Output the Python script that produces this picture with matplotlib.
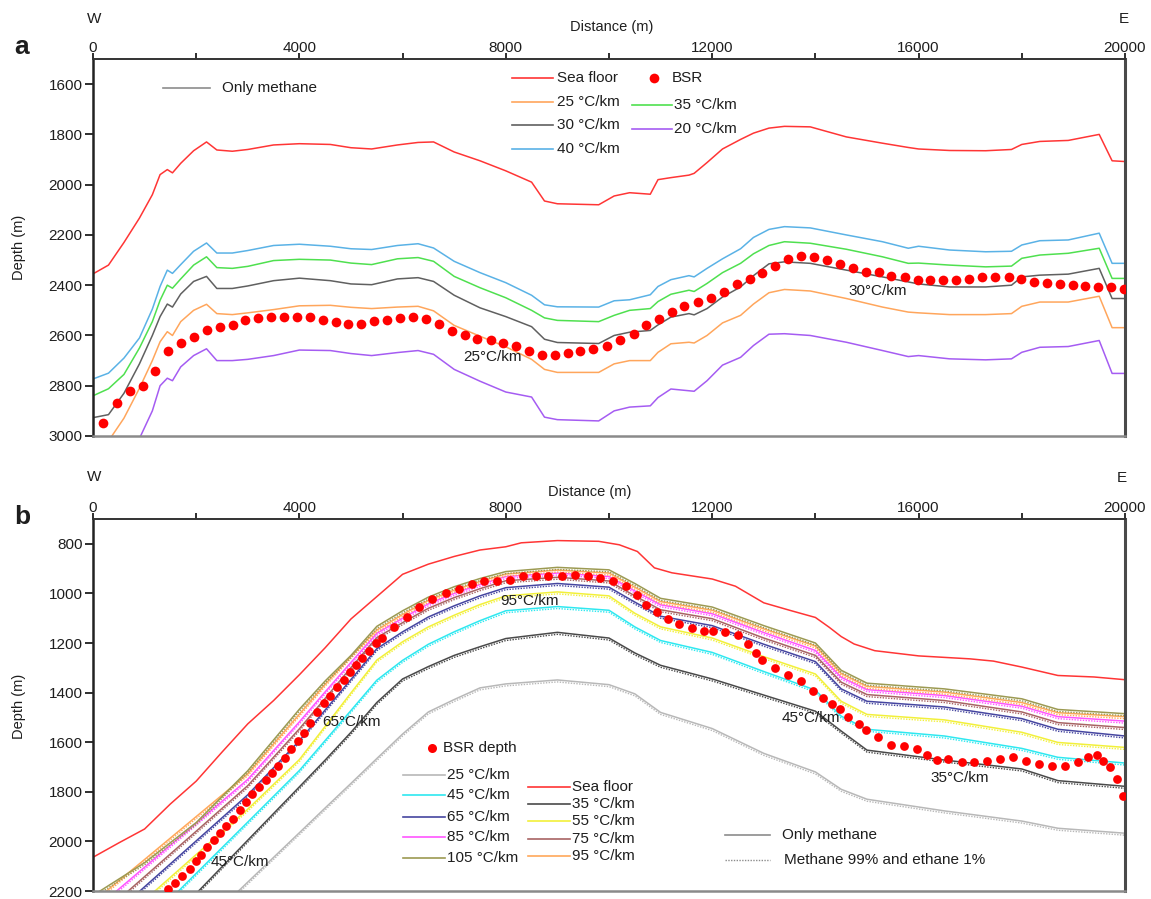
import matplotlib
matplotlib.use("Agg")
import matplotlib.pyplot as plt
from matplotlib.lines import Line2D

plt.rcParams['font.family'] = ['Liberation Sans', 'DejaVu Sans']

# ---------------- shared axis data ----------------
X_TICKS = [0, 2000, 4000, 6000, 8000, 10000, 12000, 14000, 16000, 18000, 20000]
X_TICK_LABELS = ['0', '', '4000', '', '8000', '', '12000', '', '16000', '', '20000']
A_YTICKS = [1600, 1800, 2000, 2200, 2400, 2600, 2800, 3000]
B_YTICKS = [800, 1000, 1200, 1400, 1600, 1800, 2000, 2200]

# ---------------- panel a data ----------------
A_X = [0, 300, 600, 900, 1150, 1300, 1440, 1540, 1700, 1950, 2200, 2400, 2700, 3000, 3500,
       4000, 4600, 5000, 5400, 5900, 6300, 6600, 7000, 7500, 8000, 8500, 8750, 9000, 9800, 10100,
       10400, 10800, 10950, 11200, 11550, 11650, 11900, 12200, 12550, 12800, 13100, 13400, 13900,
       14600, 15300, 15800, 16000, 16600, 17300, 17800, 18000, 18350, 18900, 19500, 19750, 20000]
SEA_A = [2355, 2320, 2230, 2133, 2040, 1960, 1940, 1953, 1915, 1865, 1830, 1862, 1867, 1860, 1842,
         1837, 1840, 1853, 1858, 1842, 1832, 1830, 1870, 1905, 1945, 1990, 2065, 2076, 2080, 2045,
         2032, 2038, 1980, 1972, 1962, 1955, 1912, 1858, 1820, 1795, 1775, 1768, 1770,
         1810, 1835, 1852, 1858, 1864, 1865, 1860, 1840, 1828, 1824, 1800, 1905, 1908]
G40_A = [2773, 2750, 2690, 2610, 2495, 2405, 2340, 2353, 2318, 2265, 2232, 2272, 2272, 2262, 2242,
         2237, 2245, 2255, 2258, 2242, 2235, 2252, 2305, 2350, 2390, 2440, 2478, 2486, 2487, 2462,
         2458, 2438, 2405, 2378, 2362, 2367, 2333, 2295, 2255, 2210, 2178, 2167, 2172,
         2200, 2227, 2253, 2245, 2260, 2267, 2265, 2240, 2223, 2220, 2193, 2313, 2313]
G35_A = [2840, 2812, 2755, 2650, 2545, 2460, 2400, 2412, 2375, 2320, 2287, 2330, 2333, 2325, 2302,
         2297, 2300, 2312, 2318, 2295, 2290, 2305, 2365, 2410, 2450, 2500, 2530, 2540, 2545, 2520,
         2500, 2493, 2465, 2436, 2420, 2425, 2393, 2350, 2313, 2275, 2242, 2227, 2233,
         2257, 2287, 2313, 2312, 2320, 2327, 2324, 2293, 2280, 2273, 2253, 2373, 2373]
G30_A = [2927, 2915, 2830, 2713, 2600, 2525, 2475, 2487, 2435, 2385, 2365, 2413, 2413, 2403, 2382,
         2372, 2382, 2395, 2398, 2375, 2370, 2385, 2440, 2490, 2525, 2565, 2615, 2628, 2632, 2600,
         2587, 2580, 2558, 2527, 2513, 2518, 2493, 2447, 2407, 2362, 2315, 2307, 2313,
         2340, 2367, 2387, 2395, 2407, 2407, 2400, 2367, 2360, 2356, 2333, 2453, 2453]
G25_A = [3060, 3020, 2929, 2810, 2700, 2625, 2585, 2600, 2545, 2500, 2476, 2513, 2517, 2510, 2497,
         2482, 2480, 2488, 2493, 2487, 2484, 2502, 2560, 2603, 2645, 2695, 2735, 2747, 2747, 2713,
         2700, 2700, 2667, 2633, 2627, 2630, 2600, 2550, 2520, 2475, 2430, 2417, 2423,
         2453, 2487, 2507, 2510, 2517, 2517, 2513, 2484, 2467, 2467, 2444, 2569, 2569]
G20_A = [3150, 3110, 3065, 3010, 2900, 2800, 2770, 2780, 2725, 2680, 2653, 2700, 2700, 2695, 2680,
         2658, 2660, 2672, 2680, 2668, 2660, 2675, 2735, 2782, 2825, 2845, 2925, 2935, 2940, 2900,
         2885, 2880, 2847, 2813, 2820, 2822, 2780, 2718, 2687, 2640, 2595, 2593, 2600,
         2627, 2660, 2684, 2680, 2693, 2697, 2693, 2667, 2647, 2644, 2620, 2751, 2751]
BSR_A_X = [200, 467, 719, 963, 1200, 1459, 1711, 1963, 2207, 2452, 2704, 2955, 3207, 3459, 3704,
           3963, 4207, 4467, 4704, 4948, 5200, 5444, 5704, 5948, 6200, 6444, 6704, 6948, 7200,
           7444, 7704, 7948, 8200, 8444, 8704, 8948, 9200, 9444, 9689, 9961, 10222, 10475, 10713,
           10969, 11222, 11463, 11725, 11977, 12229, 12473, 12725, 12965, 13217, 13469, 13721,
           13967, 14225, 14477, 14725, 14980, 15232, 15474, 15729, 15981, 16222, 16474, 16726,
           16973, 17229, 17481, 17743, 17981, 18233, 18479, 18731, 18983, 19226, 19468, 19722, 19981]
BSR_A_Y = [2949, 2869, 2820, 2800, 2740, 2663, 2629, 2607, 2580, 2567, 2560, 2540, 2529, 2527, 2527,
           2527, 2527, 2540, 2548, 2553, 2553, 2543, 2537, 2529, 2527, 2536, 2556, 2584, 2600,
           2613, 2620, 2629, 2643, 2660, 2676, 2676, 2671, 2663, 2653, 2640, 2620, 2593, 2560,
           2536, 2507, 2483, 2467, 2449, 2427, 2397, 2377, 2353, 2324, 2296, 2284,
           2289, 2300, 2316, 2333, 2347, 2349, 2363, 2369, 2380, 2380, 2380, 2380,
           2377, 2369, 2369, 2369, 2377, 2389, 2393, 2396, 2400, 2403, 2407, 2409, 2416]

# ---------------- panel b data ----------------
SEA_B_X = [0, 500, 1000, 1500, 2000, 2500, 3000, 3500, 4000, 4500, 5000, 5500, 6000, 6500, 7000,
           7500, 8000, 8300, 9000, 9800, 10200, 10550, 10880, 11220, 12000, 12450, 13000, 13500,
           14000, 14270, 14500, 14750, 15150, 16000, 17000, 17450, 18000, 18700, 19400, 20000]
SEA_B = [2064, 2006, 1950, 1849, 1757, 1640, 1526, 1432, 1328, 1219, 1103, 1013, 923, 882, 851,
         825, 812, 796, 787, 790, 804, 831, 897, 917, 942, 971, 1038, 1068,
         1097, 1137, 1174, 1204, 1231, 1252, 1264, 1273, 1297, 1331, 1337, 1348]
B_X = [0, 1000, 2000, 3000, 4000, 4500, 5000, 5500, 6000, 6500, 7000, 7500, 8000, 9000, 10000,
       10500, 11000, 12000, 13000, 14000, 14500, 15000, 16500, 18000, 18700, 20000]
G105 = [2218, 2086, 1924, 1715, 1467, 1353, 1250, 1133, 1070, 1015, 973, 940, 912, 895, 905,
        960, 1020, 1055, 1130, 1200, 1310, 1362, 1385, 1425, 1468, 1485]
G105_E = [2226, 2094, 1932, 1723, 1475, 1361, 1258, 1141, 1078, 1023, 981, 948, 920, 903, 913,
          968, 1028, 1063, 1138, 1208, 1318, 1370, 1393, 1433, 1476, 1493]
G95 = [2245, 2073, 1900, 1727, 1487, 1366, 1254, 1148, 1085, 1028, 987, 952, 922, 906, 918,
       975, 1033, 1068, 1143, 1212, 1323, 1375, 1398, 1440, 1481, 1497]
G95_E = [2253, 2081, 1908, 1735, 1495, 1374, 1262, 1156, 1093, 1036, 995, 960, 930, 914, 926,
         983, 1041, 1076, 1151, 1220, 1331, 1383, 1406, 1448, 1489, 1505]
G85 = [2281, 2104, 1927, 1750, 1518, 1397, 1278, 1161, 1100, 1042, 1000, 964, 932, 918, 932,
       990, 1046, 1082, 1158, 1230, 1338, 1388, 1412, 1455, 1497, 1515]
G85_E = [2289, 2112, 1935, 1758, 1526, 1405, 1286, 1169, 1108, 1050, 1008, 972, 940, 926, 940,
         998, 1054, 1090, 1166, 1238, 1346, 1396, 1420, 1463, 1505, 1523]
G75 = [2325, 2142, 1959, 1775, 1546, 1423, 1299, 1178, 1118, 1060, 1017, 981, 949, 935, 950,
       1010, 1066, 1102, 1180, 1250, 1358, 1408, 1432, 1478, 1521, 1541]
G75_E = [2333, 2150, 1967, 1783, 1554, 1431, 1307, 1186, 1126, 1068, 1025, 989, 957, 943, 958,
         1018, 1074, 1110, 1188, 1258, 1366, 1416, 1440, 1486, 1529, 1549]
G65 = [2369, 2183, 1998, 1812, 1594, 1470, 1347, 1223, 1155, 1095, 1050, 1010, 977, 960, 975,
       1035, 1092, 1130, 1205, 1275, 1385, 1435, 1458, 1505, 1548, 1575]
G65_E = [2377, 2191, 2006, 1820, 1602, 1478, 1355, 1231, 1163, 1103, 1058, 1018, 985, 968, 983,
         1043, 1100, 1138, 1213, 1283, 1393, 1443, 1466, 1513, 1556, 1583]
G55 = [2420, 2237, 2053, 1870, 1670, 1536, 1401, 1269, 1195, 1135, 1088, 1045, 1010, 994, 1010,
       1080, 1135, 1180, 1255, 1325, 1435, 1488, 1510, 1560, 1601, 1621]
G55_E = [2428, 2245, 2061, 1878, 1678, 1544, 1409, 1277, 1203, 1143, 1096, 1053, 1018, 1002, 1018,
         1088, 1143, 1188, 1263, 1333, 1443, 1496, 1518, 1568, 1609, 1629]
G45 = [2542, 2336, 2129, 1922, 1714, 1593, 1472, 1350, 1270, 1205, 1155, 1110, 1070, 1053, 1068,
       1135, 1190, 1238, 1315, 1390, 1495, 1548, 1575, 1625, 1661, 1684]
G45_E = [2550, 2344, 2137, 1930, 1722, 1601, 1480, 1358, 1278, 1213, 1163, 1118, 1078, 1061, 1076,
         1143, 1198, 1246, 1323, 1398, 1503, 1556, 1583, 1633, 1669, 1692]
G35 = [2600, 2405, 2210, 1995, 1780, 1672, 1560, 1440, 1345, 1295, 1250, 1215, 1182, 1157, 1180,
       1240, 1290, 1345, 1410, 1475, 1555, 1632, 1672, 1708, 1755, 1778]
G35_E = [2608, 2413, 2218, 2003, 1788, 1680, 1568, 1448, 1353, 1303, 1258, 1223, 1190, 1165, 1188,
         1248, 1298, 1353, 1418, 1483, 1563, 1640, 1680, 1716, 1763, 1786]
G25 = [2761, 2562, 2363, 2164, 1965, 1865, 1766, 1666, 1567, 1478, 1428, 1381, 1365, 1349, 1368,
       1405, 1480, 1545, 1645, 1720, 1790, 1830, 1877, 1918, 1947, 1967]
G25_E = [2769, 2570, 2371, 2172, 1973, 1873, 1774, 1674, 1575, 1486, 1436, 1389, 1373, 1357, 1376,
         1413, 1488, 1553, 1653, 1728, 1798, 1838, 1885, 1926, 1955, 1975]
BSR_B_X = [1454, 1583, 1731, 1873, 1990, 2100, 2216, 2339, 2455, 2571, 2713, 2842, 2972, 3088,
           3217, 3346, 3475, 3592, 3715, 3844, 3973, 4083, 4199, 4341, 4470, 4600, 4729, 4858,
           4974, 5103, 5220, 5349, 5478, 5594, 5833, 6092, 6324, 6576, 6835, 7093, 7339, 7578,
           7836, 8081, 8327, 8579, 8824, 9083, 9341, 9587, 9826, 10084, 10329, 10536, 10711,
           10924, 11150, 11357, 11602, 11840, 12022, 12249, 12507, 12701, 12849, 12959, 13218,
           13463, 13721, 13960, 14154, 14316, 14477, 14639, 14852, 14975, 15220, 15459, 15718,
           15963, 16157, 16351, 16577, 16835, 17074, 17320, 17578, 17823, 18082, 18340, 18579,
           18837, 19096, 19290, 19451, 19581, 19710, 19839, 19955]
BSR_B_Y = [2190, 2168, 2139, 2110, 2081, 2055, 2021, 1995, 1968, 1937, 1908, 1875, 1841, 1808,
           1779, 1751, 1724, 1697, 1665, 1628, 1595, 1564, 1521, 1479, 1441, 1412, 1379, 1348,
           1315, 1288, 1261, 1231, 1201, 1181, 1135, 1095, 1055, 1021, 997, 981, 961, 951,
           951, 945, 928, 928, 928, 928, 924, 928, 937, 948, 972, 1008, 1048,
           1075, 1105, 1124, 1141, 1152, 1151, 1155, 1168, 1204, 1239, 1268, 1301,
           1328, 1355, 1392, 1421, 1444, 1468, 1497, 1528, 1551, 1581, 1612, 1615,
           1628, 1652, 1671, 1668, 1681, 1681, 1675, 1668, 1661, 1675, 1688, 1695,
           1695, 1679, 1661, 1652, 1675, 1701, 1748, 1815]

# ---------------- colours ----------------
RED = '#ff3535'
DOT = '#ff0000'
A_COLORS = {'25': '#ffa65c', '30': '#606060', '35': '#4fe04f', '40': '#5ab2e6', '20': '#a55cf2'}
B_COLORS = {'25': '#b8b8b8', '35': '#4a4a4a', '45': '#2ee8f0', '55': '#f2f03a', '65': '#4646a0',
            '75': '#a86464', '85': '#ff55ff', '95': '#ffa85a', '105': '#9c9a52'}
TXT = '#1e1e1e'

W, H = 1151, 899
fig = plt.figure(figsize=(W / 100, H / 100), dpi=100)


def fx(px):
    return px / W


def fy(py):
    return 1 - py / H


L, R = 93, 1125
A_T, A_B = 59, 436
B_T, B_B = 519, 891
ax_a = fig.add_axes([fx(L), fy(A_B), (R - L) / W, (A_B - A_T) / H])
ax_b = fig.add_axes([fx(L), fy(B_B), (R - L) / W, (B_B - B_T) / H])


def style(ax, ylo, yhi, yticks):
    ax.set_xlim(0, 20000)
    ax.set_ylim(yhi, ylo)
    ax.xaxis.tick_top()
    ax.set_xticks(X_TICKS)
    ax.set_xticklabels(X_TICK_LABELS)
    ax.set_yticks(yticks)
    ax.tick_params(axis='x', direction='out', length=4.5, width=1.3, pad=-1.5, labelsize=11,
                   colors=TXT)
    ax.tick_params(axis='y', direction='out', length=5.5, width=1.3, pad=2, labelsize=11,
                   colors=TXT)
    ax.spines['left'].set_linewidth(1.8)
    ax.spines['left'].set_color('#222222')
    ax.spines['top'].set_linewidth(1.4)
    ax.spines['top'].set_color('#333333')
    ax.spines['right'].set_linewidth(2.2)
    ax.spines['right'].set_color('#4a4a4a')
    ax.spines['bottom'].set_linewidth(1.8)
    ax.spines['bottom'].set_color('#8a8a8a')


style(ax_a, 1500, 3000, A_YTICKS)
style(ax_b, 700, 2200, B_YTICKS)

# ---------------- panel a plotting ----------------
LW = 1.1
ax_a.plot(A_X, SEA_A, color=RED, lw=LW)
ax_a.plot(A_X, G40_A, color=A_COLORS['40'], lw=LW)
ax_a.plot(A_X, G35_A, color=A_COLORS['35'], lw=LW)
ax_a.plot(A_X, G30_A, color=A_COLORS['30'], lw=LW)
ax_a.plot(A_X, G25_A, color=A_COLORS['25'], lw=LW)
ax_a.plot(A_X, G20_A, color=A_COLORS['20'], lw=LW)
ax_a.plot(BSR_A_X, BSR_A_Y, ls='none', marker='o', ms=7, color=DOT, mec='none', zorder=5)
ax_a.text(7750, 2684, '25°C/km', fontsize=11, color=TXT, ha='center', va='center')
ax_a.text(15210, 2424, '30°C/km', fontsize=11, color=TXT, ha='center', va='center')

# ---------------- panel b plotting ----------------
ax_b.plot(SEA_B_X, SEA_B, color=RED, lw=LW)
b_series = [('25', G25, G25_E), ('35', G35, G35_E), ('45', G45, G45_E), ('55', G55, G55_E),
            ('65', G65, G65_E), ('75', G75, G75_E), ('85', G85, G85_E), ('95', G95, G95_E),
            ('105', G105, G105_E)]
for key, solid, eth in b_series:
    c = B_COLORS[key]
    ax_b.plot(B_X, eth, color=c, lw=1.0, ls=(0, (1, 1)))
    ax_b.plot(B_X, solid, color=c, lw=1.1)
ax_b.plot(BSR_B_X, BSR_B_Y, ls='none', marker='o', ms=6.3, color=DOT, mec='none', zorder=5)
for (tx, ty, s) in [(8450, 1030, '95°C/km'), (5007, 1519, '65°C/km'), (2855, 2082, '45°C/km'),
                    (13915, 1504, '45°C/km'), (16803, 1744, '35°C/km')]:
    ax_b.text(tx, ty, s, fontsize=11, color=TXT, ha='center', va='center', zorder=6)

# ---------------- figure texts ----------------
def ftext(px, py, s, **kw):
    kw.setdefault('fontsize', 11)
    kw.setdefault('color', TXT)
    fig.text(fx(px), fy(py), s, **kw)


ftext(22, 47, 'a', fontsize=19, fontweight='bold', ha='center', va='center')
ftext(22, 517, 'b', fontsize=19, fontweight='bold', ha='center', va='center')
ftext(94, 19, 'W', ha='center', va='center')
ftext(1124, 19, 'E', ha='center', va='center')
ftext(94, 477, 'W', ha='center', va='center')
ftext(1122, 478, 'E', ha='center', va='center')
ftext(612, 27, 'Distance (m)', fontsize=10.5, ha='center', va='center')
ftext(590, 492, 'Distance (m)', fontsize=10.5, ha='center', va='center')
ftext(19, 247, 'Depth (m)', fontsize=10.5, ha='center', va='center', rotation=90)
ftext(19, 706, 'Depth (m)', fontsize=10.5, ha='center', va='center', rotation=90)


def leg_line(px0, px1, py, color, ls='-', lw=1.2):
    fig.add_artist(Line2D([fx(px0), fx(px1)], [fy(py), fy(py)], transform=fig.transFigure,
                          color=color, lw=lw, ls=ls))


def leg_dot(px, py, ms):
    fig.add_artist(Line2D([fx(px)], [fy(py)], transform=fig.transFigure, ls='none',
                          marker='o', ms=ms, color=DOT, mec='none'))


# panel a legend
leg_line(163, 210, 88, '#8c8c8c')
ftext(222, 88, 'Only methane', va='center')
leg_line(512, 553, 78, RED)
ftext(557, 78, 'Sea floor', va='center')
leg_dot(654, 78, 7)
ftext(672, 78, 'BSR', va='center')
leg_line(512, 553, 102, A_COLORS['25'])
ftext(557, 102, '25 °C/km', va='center')
leg_line(632, 672, 105, A_COLORS['35'])
ftext(674, 105, '35 °C/km', va='center')
leg_line(512, 553, 125, A_COLORS['30'])
ftext(557, 125, '30 °C/km', va='center')
leg_line(632, 672, 129, A_COLORS['20'])
ftext(674, 129, '20 °C/km', va='center')
leg_line(512, 553, 149, A_COLORS['40'])
ftext(557, 149, '40 °C/km', va='center')

# panel b legend
leg_dot(432, 748, 6.5)
ftext(443, 748, 'BSR depth', va='center')
for key, py in [('25', 775), ('45', 795), ('65', 817), ('85', 837), ('105', 858)]:
    leg_line(403, 445, py, B_COLORS[key])
    ftext(447, py, key + ' °C/km', va='center')
leg_line(528, 570, 787, RED)
ftext(572, 787, 'Sea floor', va='center')
for key, py in [('35', 804), ('55', 821), ('75', 839), ('95', 856)]:
    leg_line(528, 570, py, B_COLORS[key])
    ftext(572, py, key + ' °C/km', va='center')
leg_line(725, 770, 835, '#8c8c8c')
ftext(782, 835, 'Only methane', va='center')
leg_line(725, 770, 860, '#8c8c8c', ls=(0, (1, 1)), lw=1.0)
ftext(784, 860, 'Methane 99% and ethane 1%', va='center')

fig.savefig('out.png', dpi=100)
